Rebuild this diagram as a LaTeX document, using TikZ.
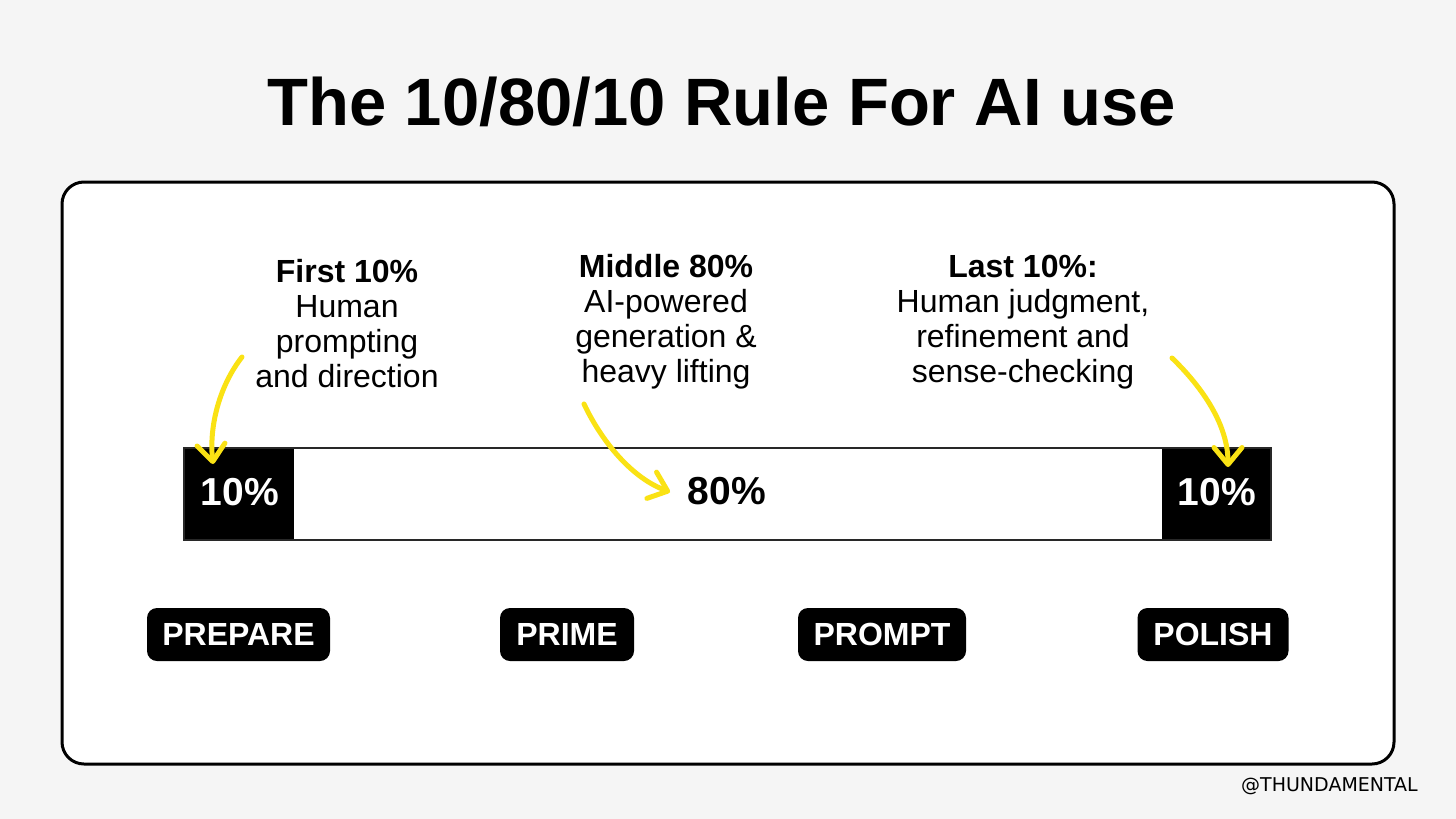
\documentclass[tikz,border=0pt]{standalone}
\usepackage{fontspec}
\setmainfont{Liberation Sans}
\newfontfamily\wmfont{DejaVu Sans}
\usetikzlibrary{arrows.meta}
\definecolor{bgc}{RGB}{245,245,245}
\definecolor{ylw}{RGB}{250,226,20}
\definecolor{barline}{RGB}{40,40,40}
\tikzset{
  blk/.style={fill=black,draw=none,inner sep=0pt,minimum height=92pt},
  midblk/.style={fill=white,draw=none,inner sep=0pt,minimum height=92pt},
  pct/.style={font=\fontsize{39}{44}\selectfont\bfseries,inner sep=0pt,anchor=base},
  note/.style={font=\fontsize{32}{35}\selectfont,align=center,inner sep=0pt,anchor=base},
  tag/.style={fill=black,text=white,rounded corners=10pt,inner sep=0pt,minimum height=53pt,font=\fontsize{32}{36}\selectfont\bfseries},
  yarrow/.style={draw=ylw,line width=5pt,line cap=round,-{Straight Barb[length=17pt,width=28pt,round]}}
}
\begin{document}
\begin{tikzpicture}[x=1pt,y=-1pt]
\fill[bgc] (0,0) rectangle (1456,819);
\useasboundingbox (0,0) rectangle (1456,819);
% title
\node[font=\fontsize{67}{80}\selectfont\bfseries,inner sep=0pt,anchor=base] (title) at (721.5,125) {The 10/80/10 Rule For AI use};
% card
\draw[line width=3pt,fill=white,rounded corners=22pt] (62,182) rectangle (1394,764);
% bar
\node[blk,minimum width=110pt] (lb) at (239,494) {};
\node[midblk,minimum width=868pt] (mb) at (728,494) {};
\node[blk,minimum width=109pt] (rb) at (1216.5,494) {};
\draw[barline,line width=1.6pt] (lb.north west) rectangle (rb.south east);
\node[pct,text=white] (p1) at (240,505) {10\%};
\node[pct] (p2) at (727,504) {80\%};
\node[pct,text=white] (p3) at (1217,505) {10\%};
% notes (anchor = baseline of last line)
\node[note] (n1) at (347,387) {\textbf{First 10\%}\\Human\\prompting\\and direction};
\node[note] (n2) at (666,382) {\textbf{Middle 80\%}\\AI-powered\\generation \&\\heavy lifting};
\node[note] (n3) at (1023,382) {\textbf{Last 10\%:}\\Human judgment,\\refinement and\\sense-checking};
% arrows
\coordinate (a1s) at (242,357);
\coordinate (a1e) at (213,464);
\coordinate (a2s) at (584,404);
\coordinate (a2e) at (670,492);
\coordinate (a3s) at (1172,358);
\coordinate (a3e) at (1228,467);
\draw[yarrow] (a1s) .. controls (220,385) and (209,425) .. (a1e);
\draw[yarrow] (a2s) .. controls (602,442) and (632,478) .. (a2e);
\draw[yarrow] (a3s) .. controls (1203,388) and (1228,425) .. (a3e);
% tags
\node[tag,minimum width=183pt] (t1) at (238.5,634.5) {PREPARE};
\node[tag,minimum width=134pt] (t2) at (567,634.5) {PRIME};
\node[tag,minimum width=168pt] (t3) at (882,634.5) {PROMPT};
\node[tag,minimum width=151pt] (t4) at (1213,634.5) {POLISH};
% watermark
\node[font=\wmfont\fontsize{19}{24}\selectfont,inner sep=0pt,anchor=base east] (wm) at (1418,791) {@THUNDAMENTAL};
\end{tikzpicture}
\end{document}
